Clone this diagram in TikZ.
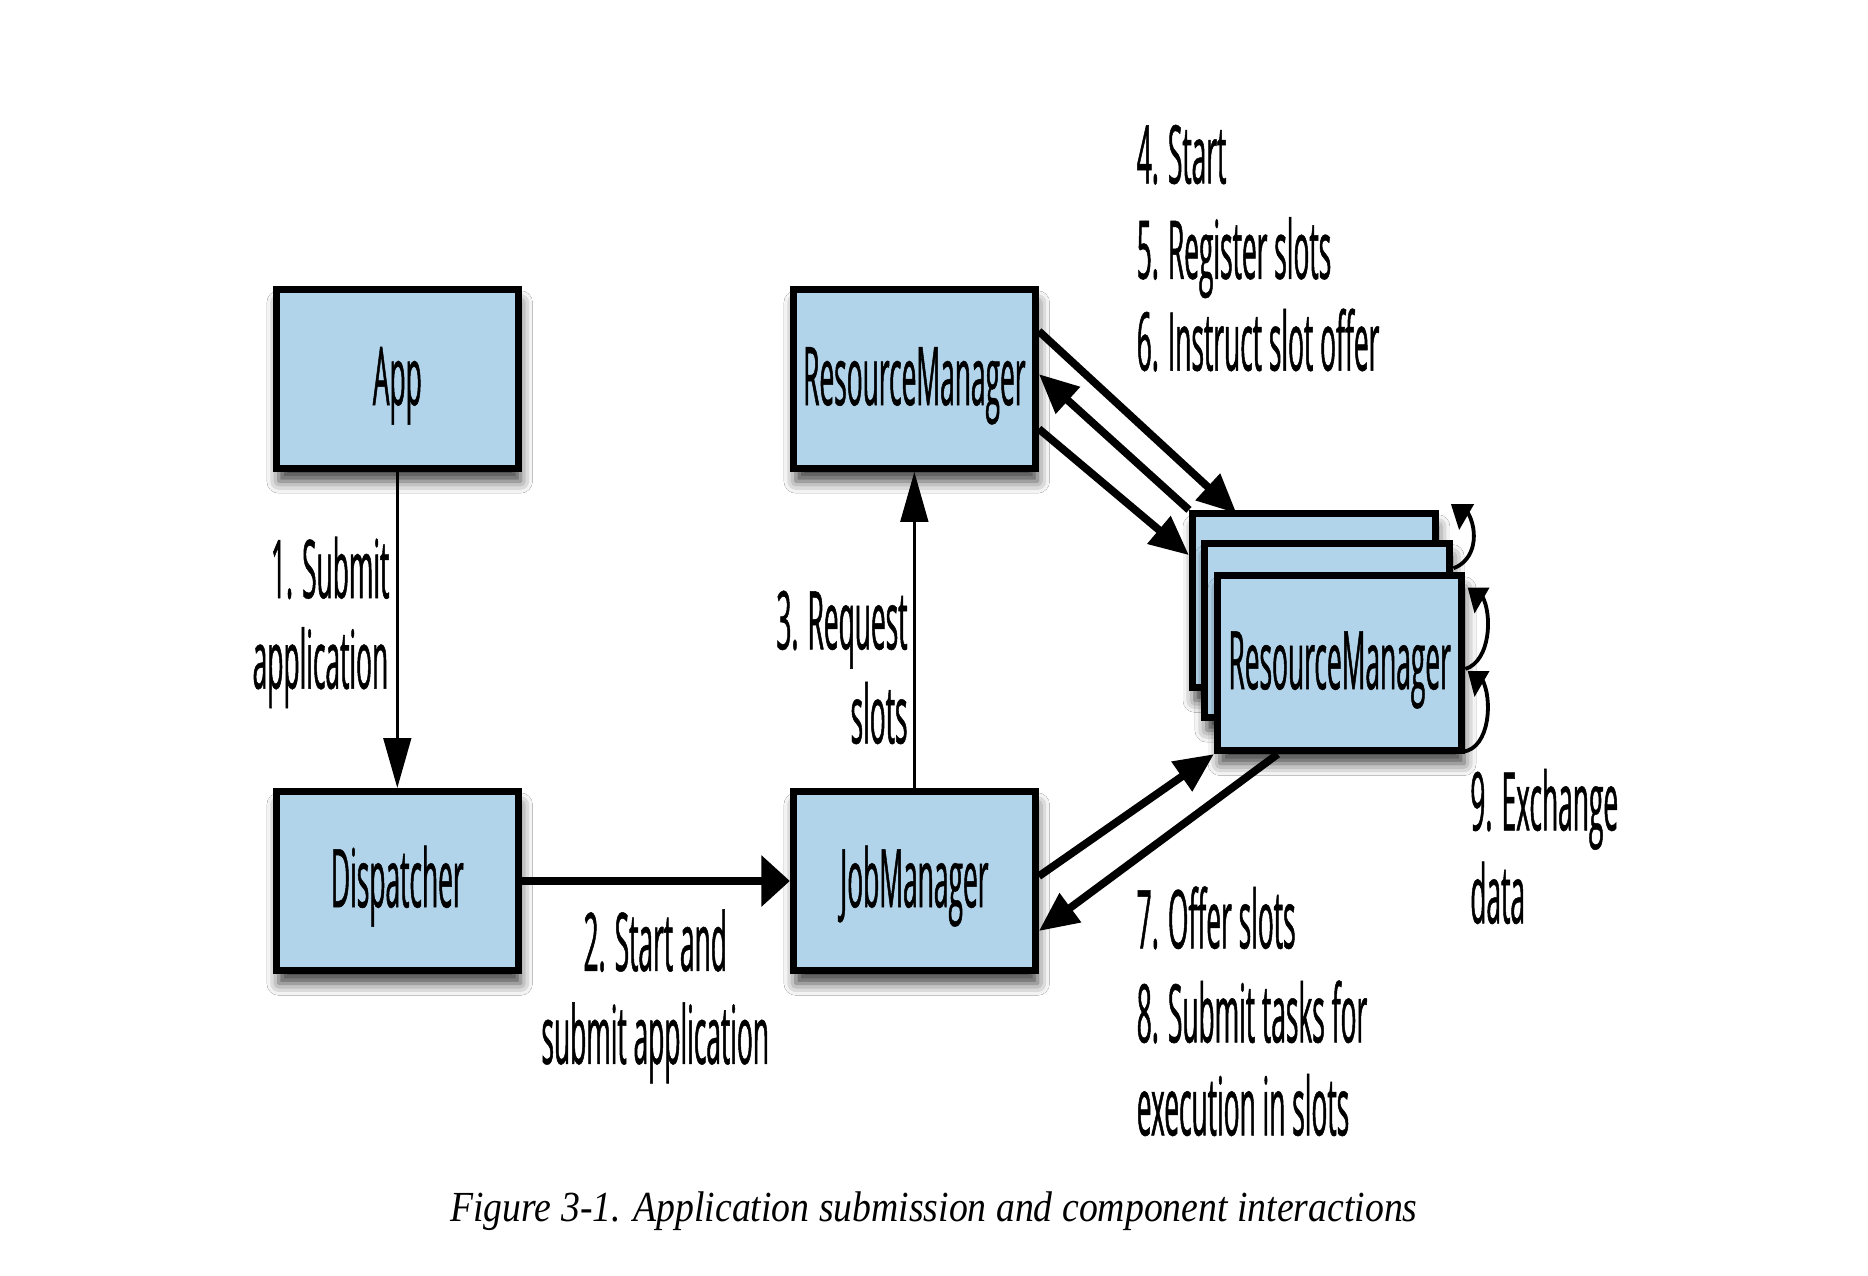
\documentclass[tikz,border=0pt]{standalone}
\usepackage{fontspec}
\newfontfamily\labfont[FakeStretch=0.325,FakeBold=0.6]{Open Sans}
\newfontfamily\capfam[FakeStretch=0.88]{Liberation Serif}
\usetikzlibrary{arrows.meta,calc,shadows.blur}
\definecolor{boxblue}{RGB}{178,212,235}
\newcommand\labsize{\fontsize{68}{78}\selectfont}
\newcommand\capsize{\fontsize{36}{40}\selectfont}
\begin{document}
\begin{tikzpicture}[x=1pt,y=-1pt,
  box/.style={draw=black, line width=6pt, fill=boxblue, inner sep=0pt,
    minimum width=203pt, minimum height=150pt, font=\labfont\labsize,
    text height=60pt, text depth=16pt,
    blur shadow={shadow xshift=2pt, shadow yshift=-11pt, shadow blur radius=10pt, shadow opacity=75}},
  lab/.style={inner sep=0pt, font=\labfont\labsize},
  thinarr/.style={line width=3pt, -{Triangle[length=42pt,width=23pt]}},
  thickarr/.style={line width=7pt, -{Triangle[length=24pt,width=42pt]}},
  diagarr/.style={line width=6.5pt, -{Triangle[length=33pt,width=29pt]}},
  loopline/.style={line width=3.2pt},
  looptip/.style={draw=black, fill=black, line width=1.5pt, line join=miter},
]
\fill[white] (0,0) rectangle (1568,1071);
\useasboundingbox (0,0) rectangle (1568,1071);

\node[box] (app) at (333.5,318) {App};
\node[box] (disp) at (333.5,739.5) {Dispatcher};
\node[box] (rm) at (767.5,318) {ResourceManager};
\node[box] (jm) at (767.5,739.5) {JobManager};
\node[box, minimum width=204pt, minimum height=146pt] (tm1) at (1103,504) {};
\node[box, minimum width=206pt, minimum height=146pt] (tm2) at (1114,529) {};
\node[box, minimum width=205pt, minimum height=147pt] (tm3) at (1124.5,556.5) {ResourceManager};

\draw[thinarr] (app.south) -- (disp.north);
\draw[thickarr] (disp.east) -- (jm.west);
\draw[thinarr] (jm.north) -- (rm.south);

\draw[diagarr] ([yshift=40pt]rm.east) -- ([xshift=40pt,yshift=-3pt]tm1.north west);
\draw[diagarr] (tm1.north west) -- ([yshift=4pt]rm.east);
\draw[diagarr] ([yshift=-42pt]rm.east) -- ([yshift=38pt]tm1.west);

\draw[diagarr] ([yshift=4pt]jm.east) -- (tm3.south west);
\draw[diagarr] ([xshift=-52pt]tm3.south) -- ([yshift=-42pt]jm.east);

% 9. exchange data loops
\coordinate (t1) at (1225,443);
\coordinate (t2) at (1238,513);
\coordinate (t3) at (1238,583);
\draw[loopline] (1232,430) .. controls (1241,446) and (1239,470) .. ([yshift=52pt]tm2.east);
\draw[loopline] (1244,500) .. controls (1253,516) and (1251,555) .. ([yshift=-5pt]tm3.east);
\draw[loopline] (1244,570) .. controls (1253,586) and (1251,628) .. ([xshift=-2pt,yshift=2pt]tm3.south east);
\filldraw[looptip] (t1) -- ++(-6,-19) -- ++(17,0) -- cycle;
\filldraw[looptip] (t2) -- ++(-5,-19) -- ++(16,0) -- cycle;
\filldraw[looptip] (t3) -- ++(-5,-19) -- ++(16,0) -- cycle;

\node[lab, anchor=base east] (l1a) at (327,502) {1. Submit};
\node[lab, anchor=base east] (l1b) at (326,578) {application};
\node[lab, anchor=base] (l2a) at (550,815) {2. Start and};
\node[lab, anchor=base] (l2b) at (550,893) {submit application};
\node[lab, anchor=base east] (l3a) at (762,545) {3. Request};
\node[lab, anchor=base east] (l3b) at (762,624) {slots};
\node[lab, anchor=base west] (l4) at (954,154) {4. Start};
\node[lab, anchor=base west] (l5) at (954,234) {5. Register slots};
\node[lab, anchor=base west] (l6) at (954,311) {6. Instruct slot offer};
\node[lab, anchor=base west] (l7) at (954,796) {7. Offer slots};
\node[lab, anchor=base west] (l8) at (954,875) {8. Submit tasks for};
\node[lab, anchor=base west] (l8b) at (954,953) {execution in slots};
\node[lab, anchor=base west] (l9) at (1234,697) {9. Exchange};
\node[lab, anchor=base west] (l9b) at (1234,775) {data};

\node[anchor=base, inner sep=0pt, font=\capfam\capsize\itshape] (cap) at (784,1025) {Figure 3-1. Application submission and component interactions};
\end{tikzpicture}
\end{document}
